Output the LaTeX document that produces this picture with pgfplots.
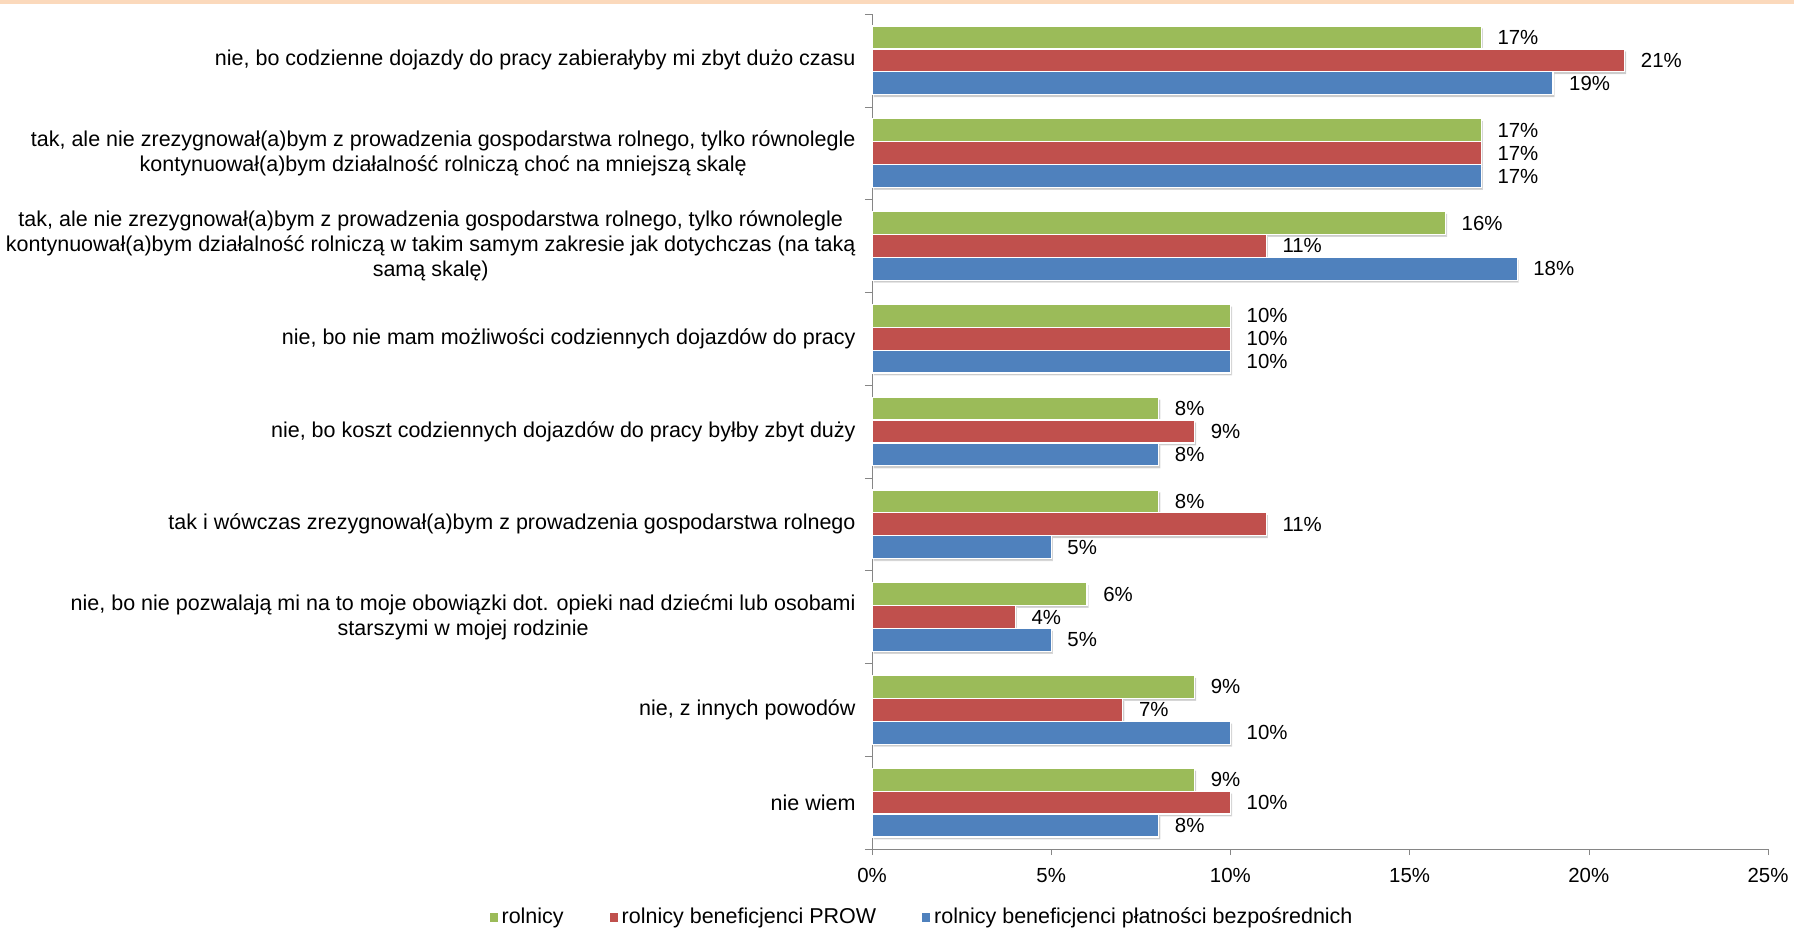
\documentclass[border=0pt]{standalone}
\usepackage{pgfplots}
\pgfplotsset{compat=1.18}
\usepackage{fontspec}
\setmainfont{Liberation Sans}
\usetikzlibrary{shadows}
\definecolor{grn}{HTML}{9BBB59}
\definecolor{rd}{HTML}{C0504D}
\definecolor{bl}{HTML}{4F81BD}
\definecolor{axgray}{HTML}{868686}
\definecolor{peach}{HTML}{FBD9BC}
\begin{document}
\begin{tikzpicture}[font=\fontsize{10.2}{12.6}\selectfont]
\useasboundingbox (0,0) rectangle (897pt,464.5pt);
\fill[peach] (0,462.5pt) rectangle (897pt,464.5pt);
\begin{axis}[
  at={(436pt,40pt)}, anchor=south west, scale only axis,
  width=448pt, height=417.5pt,
  xbar=0pt, bar width=0.247,
  xmin=0, xmax=25, ymin=-0.5, ymax=8.5, y dir=reverse,
  enlargelimits=false, clip=false,
  axis lines*=left, axis line style={axgray},
  xtick={0,5,...,25}, xticklabels={0\%,5\%,10\%,15\%,20\%,25\%},
  xticklabel style={yshift=-3pt},
  ytick={0,...,8},
  yticklabels={
    {nie, bo codzienne dojazdy do pracy zabierałyby mi zbyt dużo czasu},
    {tak, ale nie zrezygnował(a)bym z prowadzenia gospodarstwa rolnego, tylko równolegle\\kontynuował(a)bym działalność rolniczą choć na mniejszą skalę},
    {tak, ale nie zrezygnował(a)bym z prowadzenia gospodarstwa rolnego, tylko równolegle\\kontynuował(a)bym działalność rolniczą w takim samym zakresie jak dotychczas (na taką\\samą skalę)},
    {nie, bo nie mam możliwości codziennych dojazdów do pracy},
    {nie, bo koszt codziennych dojazdów do pracy byłby zbyt duży},
    {tak i wówczas zrezygnował(a)bym z prowadzenia gospodarstwa rolnego},
    {nie, bo nie pozwalają mi na to moje obowiązki dot. opieki nad dziećmi lub osobami\\starszymi w mojej rodzinie},
    {nie, z innych powodów},
    {nie wiem}},
  yticklabel style={align=center, xshift=-1.7pt, font=\fontsize{10.75}{12.6}\selectfont},
  minor ytick={-0.5,0.5,...,8.5},
  tick align=outside,
  major tick length=3pt, minor tick length=3.5pt,
  major y tick style={draw=none},
  minor y tick style={axgray},
  major x tick style={axgray},
  nodes near coords={\pgfmathprintnumber{\pgfplotspointmeta}\%},
  nodes near coords align={horizontal},
  every node near coord/.append style={anchor=west, xshift=4.5pt, font=\fontsize{10.2}{12.6}\selectfont, text=black},
  /pgf/number format/assume math mode=true,
  legend style={at={(0.057,-0.082)}, anchor=center, legend columns=3, draw=none,
    font=\fontsize{10.75}{12.6}\selectfont,
    /tikz/every even column/.append style={column sep=21pt}},
  legend cell align=left,
]
\addlegendimage{legend image code/.code={\fill[grn] (0pt,-1.8pt) rectangle (3.6pt,1.8pt);}}
\addlegendimage{legend image code/.code={\fill[rd] (0pt,-1.8pt) rectangle (3.6pt,1.8pt);}}
\addlegendimage{legend image code/.code={\fill[bl] (0pt,-1.8pt) rectangle (3.6pt,1.8pt);}}
\addplot[forget plot, bar shift=-0.247, fill=grn, draw=white, line width=0.6pt,
  drop shadow={shadow xshift=0.8pt, shadow yshift=-1.2pt, fill=black, opacity=0.2}]
  coordinates {(17,0) (17,1) (16,2) (10,3) (8,4) (8,5) (6,6) (9,7) (9,8)};
\addplot[forget plot, bar shift=0, fill=rd, draw=white, line width=0.6pt,
  drop shadow={shadow xshift=0.8pt, shadow yshift=-1.2pt, fill=black, opacity=0.2}]
  coordinates {(21,0) (17,1) (11,2) (10,3) (9,4) (11,5) (4,6) (7,7) (10,8)};
\addplot[forget plot, bar shift=0.247, fill=bl, draw=white, line width=0.6pt,
  drop shadow={shadow xshift=0.8pt, shadow yshift=-1.2pt, fill=black, opacity=0.2}]
  coordinates {(19,0) (17,1) (18,2) (10,3) (8,4) (5,5) (5,6) (10,7) (8,8)};
\legend{rolnicy, rolnicy beneficjenci PROW, rolnicy beneficjenci płatności bezpośrednich}
\end{axis}
\end{tikzpicture}
\end{document}
